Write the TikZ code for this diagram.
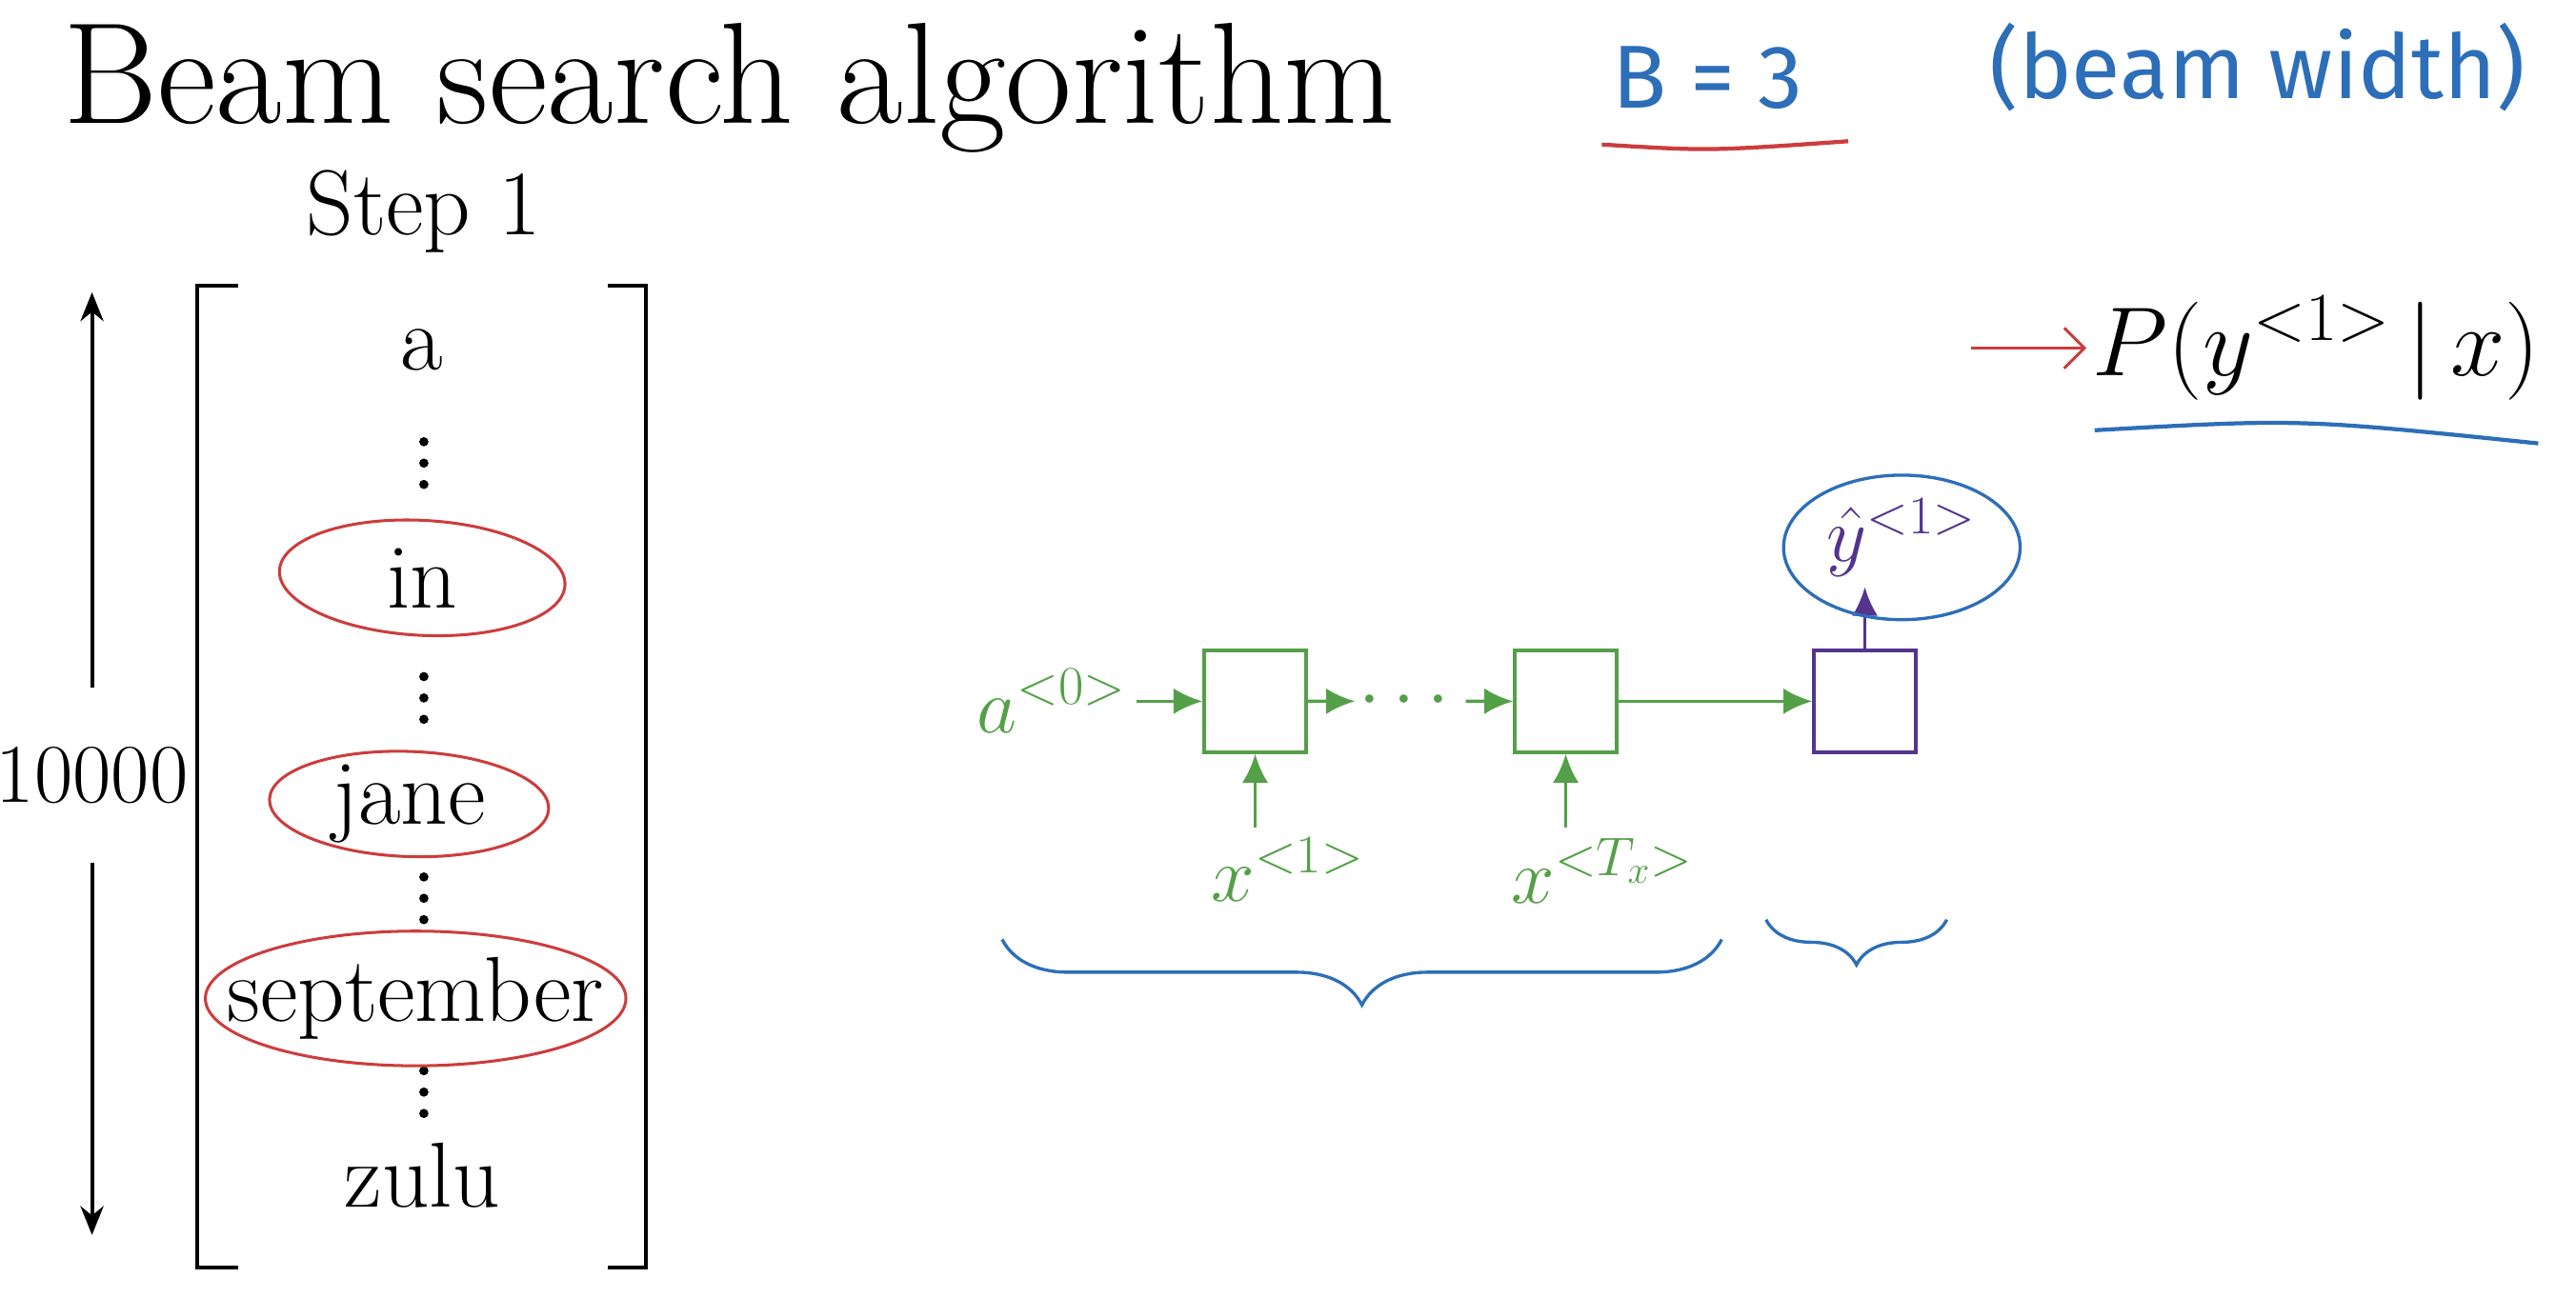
\RequirePackage{fix-cm}
\documentclass[tikz,border=0pt]{standalone}
\usepackage{fontspec}
\newfontfamily\handfont{Fira Sans}
\usetikzlibrary{arrows.meta, positioning, calc, decorations.pathreplacing}
\usepackage{xcolor}
\usepackage{amsmath}

\definecolor{rnngreen}{RGB}{84,160,72}
\definecolor{outpurple}{RGB}{84,52,140}
\definecolor{penblue}{RGB}{45,110,185}
\definecolor{penred}{RGB}{205,60,60}

\begin{document}
\begin{tikzpicture}[x=0.02cm, y=-0.02cm,
  word/.style={anchor=base, font=\fontsize{32}{38}\selectfont},
  cell/.style={draw=rnngreen, line width=1.2pt, minimum size=1.24cm, inner sep=0pt},
  pcell/.style={cell, draw=outpurple},
  glabel/.style={text=rnngreen, font=\fontsize{27}{32}\selectfont},
  ga/.style={draw=rnngreen, line width=1.2pt, -{Latex[length=10pt, width=9pt]}},
  pa/.style={ga, draw=outpurple},
  hand/.style={text=penblue, font=\handfont\fontsize{31}{36}\selectfont},
  redpen/.style={draw=penred, line width=1pt},
  bluepen/.style={draw=penblue, line width=1.1pt},
  dim/.style={line width=1.3pt, -{Stealth[length=10pt, width=8pt]}},
]
  \useasboundingbox (0,0) rectangle (1568,790);

  % title and notes
  \node[anchor=base west, font=\fontsize{50}{56}\selectfont, inner sep=0pt] (title) at (38,75) {Beam search algorithm};
  \node[hand, anchor=base west] (beam) at (975,66) {B = 3};
  \node[hand, anchor=base west] (bw) at (1205,60) {(beam width)};
  \draw[redpen, line width=1.4pt] (975,88) .. controls (1040,92) .. (1125,86);

  % vocabulary vector
  \node[anchor=base, font=\fontsize{32}{38}\selectfont] (step) at (258,143) {Step 1};
  \node[word] (a)    at (257,225) {a};
  \node[word] (in)   at (257,370) {in};
  \node[word] (jane) at (249,502) {jane};
  \node[word] (sep)  at (253,622) {september};
  \node[word] (zulu) at (257,735) {zulu};
  \foreach \y in {282,425,547,665}
    \foreach \d in {-13,0,13}
      \fill (258,\y+\d) circle (1.6pt);
  \draw[line width=1.4pt] (145,174) -- (120,174) -- (120,772) -- (145,772);
  \draw[line width=1.4pt] (370,174) -- (393,174) -- (393,772) -- (370,772);

  \node[font=\fontsize{29}{34}\selectfont, inner sep=0pt, outer ysep=0.72cm] (cnt) at (56,472) {10000};
  \coordinate (ctop) at (56,178);
  \coordinate (cbot) at (56,752);
  \draw[dim] (cnt) -- (ctop);
  \draw[dim] (cnt) -- (cbot);

  % picks
  \draw[redpen, rotate around={-3:(in.center)}] (in.center) ellipse [x radius=87, y radius=35];
  \draw[redpen, rotate around={-2:(jane.center)}] (jane.center) ellipse [x radius=85, y radius=32];
  \draw[redpen] (sep.center) ellipse [x radius=128, y radius=41];

  % rnn
  \node[cell] (b1) at (764,427) {};
  \node[cell, right=2.5cm of b1] (b2) {};
  \node[pcell, right=2.36cm of b2] (p1) {};
  \node[glabel, left=0.8cm of b1] (a0) {$a^{<0>}$};
  \node[glabel, inner sep=1pt] (dots) at ($(b1)!.5!(b2)$) {$\cdots$};
  \node[glabel, below=0.9cm of b1, xshift=0.4cm] (x1) {$x^{<1>}$};
  \node[glabel, below=0.9cm of b2, xshift=0.45cm] (xt) {$x^{<T_x>}$};
  \node[text=outpurple, font=\fontsize{27}{32}\selectfont, above=0.75cm of p1, xshift=0.45cm] (yh) {$\hat{y}^{<1>}$};

  \draw[ga] (a0) -- (b1);
  \draw[ga] (b1) -- (dots);
  \draw[ga] (dots) -- (b2);
  \draw[ga] (b2) -- (p1);
  \draw[ga] (b1 |- x1.north) -- (b1);
  \draw[ga] (b2 |- xt.north) -- (b2);
  \draw[pa] (p1) -- (p1 |- yh.south);
  \draw[bluepen] ($(yh.center)+(0,6)$) ellipse [x radius=72, y radius=44];

  % braces
  \draw[bluepen, decorate, decoration={brace, mirror, amplitude=0.8cm}] (610,572) -- (1048,572);
  \draw[bluepen, decorate, decoration={brace, mirror, amplitude=0.55cm}] (1075,560) -- (1185,560);

  % output probability
  \node[anchor=west, font=\fontsize{34}{40}\selectfont, inner sep=2pt] (prob) at (1270,212) {$P(y^{<1>}\,|\,x)$};
  \coordinate (parr) at (1200,212);
  \draw[redpen, -{Straight Barb[length=7pt]}] (parr) -- (prob);
  \draw[bluepen, line width=1.4pt] (1275,262) .. controls (1400,255) .. (1545,270);
\end{tikzpicture}
\end{document}
